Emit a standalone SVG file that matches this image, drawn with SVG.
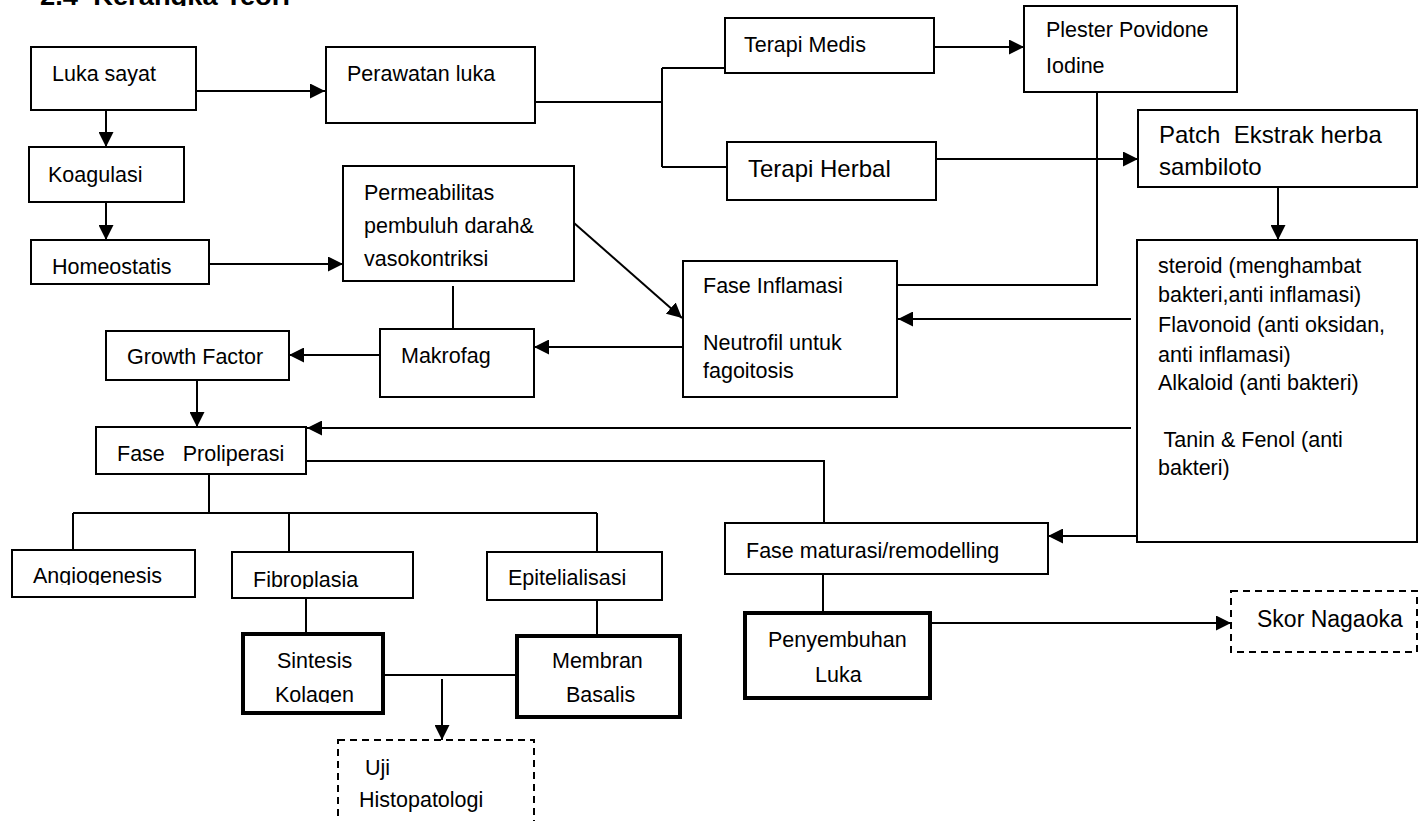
<svg xmlns="http://www.w3.org/2000/svg" width="1419" height="821" viewBox="0 0 1419 821">
<style>
.b{fill:#fff;stroke:#000;stroke-width:2}
.k{fill:#fff;stroke:#000;stroke-width:4}
.d{fill:#fff;stroke:#000;stroke-width:2;stroke-dasharray:7 5}
.t{font-family:"Liberation Sans",Arial,sans-serif;font-size:21.5px;fill:#000}
.a{font-family:"Liberation Sans",Arial,sans-serif;font-size:24px;fill:#000}
.c{stroke:#000;stroke-width:2;fill:none}
.h{font-family:"Liberation Sans",Arial,sans-serif;font-size:26px;font-weight:bold;fill:#000}
</style>
<defs>
<marker id="ar" markerUnits="userSpaceOnUse" markerWidth="15" markerHeight="15" refX="15" refY="7.5" orient="auto">
<path d="M0,0 L15,7.5 L0,15 z" fill="#000"/>
</marker>
<clipPath id="cTitle"><rect x="0" y="0" width="400" height="6"/></clipPath>
<clipPath id="cAng"><rect x="0" y="540" width="300" height="45"/></clipPath>
<clipPath id="cFib"><rect x="200" y="540" width="300" height="49"/></clipPath>
<clipPath id="cKol"><rect x="240" y="640" width="400" height="63"/></clipPath>
</defs>
<rect width="1419" height="821" fill="#fff"/>
<g id="title" clip-path="url(#cTitle)">
<text class="h" x="40" y="5" xml:space="preserve" textLength="250" lengthAdjust="spacingAndGlyphs">2.4  Kerangka Teori</text>
</g>
<g id="connectors">
<path class="c" d="M196,91 H325" marker-end="url(#ar)"/>
<path class="c" d="M106,110 V147" marker-end="url(#ar)"/>
<path class="c" d="M106,202 V240" marker-end="url(#ar)"/>
<path class="c" d="M209,264 H343" marker-end="url(#ar)"/>
<path class="c" d="M535,102 H662 M662,68 V167 M662,68 H725 M662,167 H727"/>
<path class="c" d="M934,47 H1024" marker-end="url(#ar)"/>
<path class="c" d="M936,159 H1138" marker-end="url(#ar)"/>
<path class="c" d="M1097,92 V285 H897"/>
<path class="c" d="M1278,187 V240" marker-end="url(#ar)"/>
<path class="c" d="M1131,319 H898" marker-end="url(#ar)"/>
<path class="c" d="M1131,428 H307" marker-end="url(#ar)"/>
<path class="c" d="M1137,536 H1048" marker-end="url(#ar)"/>
<path class="c" d="M574,223 L682,318" marker-end="url(#ar)"/>
<path class="c" d="M453,286 V329"/>
<path class="c" d="M683,347 H534" marker-end="url(#ar)"/>
<path class="c" d="M380,355 H289" marker-end="url(#ar)"/>
<path class="c" d="M197,380 V427" marker-end="url(#ar)"/>
<path class="c" d="M306,461 H824 V523"/>
<path class="c" d="M209,474 V513 M73,513 H597 M73,513 V550 M289,513 V552 M597,513 V552"/>
<path class="c" d="M306,598 V634"/>
<path class="c" d="M597,600 V636"/>
<path class="c" d="M383,675 H517"/>
<path class="c" d="M442,679 V740" marker-end="url(#ar)"/>
<path class="c" d="M823,574 V613"/>
<path class="c" d="M930,623 H1231" marker-end="url(#ar)"/>
</g>
<g id="luka-sayat"><rect class="b" x="31" y="47" width="165" height="63"/><text class="t" x="52" y="81">Luka sayat</text></g>
<g id="perawatan-luka"><rect class="b" x="326" y="47" width="209" height="76"/><text class="t" x="347" y="81">Perawatan luka</text></g>
<g id="terapi-medis"><rect class="b" x="725" y="18" width="209" height="55"/><text class="t" x="744" y="52">Terapi Medis</text></g>
<g id="plester"><rect class="b" x="1024" y="6" width="213" height="86"/><text class="t" x="1046" y="37">Plester Povidone</text><text class="t" x="1046" y="73">Iodine</text></g>
<g id="terapi-herbal"><rect class="b" x="727" y="142" width="209" height="58"/><text class="a" x="748" y="177">Terapi Herbal</text></g>
<g id="patch"><rect class="b" x="1138" y="110" width="279" height="77"/><text class="a" x="1159" y="143" xml:space="preserve">Patch  Ekstrak herba</text><text class="a" x="1159" y="175">sambiloto</text></g>
<g id="koagulasi"><rect class="b" x="29" y="147" width="155" height="55"/><text class="t" x="48" y="182">Koagulasi</text></g>
<g id="homeostatis"><rect class="b" x="31" y="240" width="178" height="44"/><text class="t" x="52" y="274">Homeostatis</text></g>
<g id="permeabilitas"><rect class="b" x="343" y="166" width="231" height="115"/><text class="t" x="364" y="200">Permeabilitas</text><text class="t" x="364" y="233">pembuluh darah&amp;</text><text class="t" x="364" y="266">vasokontriksi</text></g>
<g id="fase-inflamasi"><rect class="b" x="683" y="261" width="214" height="136"/><text class="t" x="703" y="293">Fase Inflamasi</text><text class="t" x="703" y="350">Neutrofil untuk</text><text class="t" x="703" y="378">fagoitosis</text></g>
<g id="senyawa"><rect class="b" x="1137" y="240" width="280" height="302"/>
<text class="t" x="1158" y="273">steroid (menghambat</text>
<text class="t" x="1158" y="302">bakteri,anti inflamasi)</text>
<text class="t" x="1158" y="332">Flavonoid (anti oksidan,</text>
<text class="t" x="1158" y="362">anti inflamasi)</text>
<text class="t" x="1158" y="390">Alkaloid (anti bakteri)</text>
<text class="t" x="1158" y="447" xml:space="preserve"> Tanin &amp; Fenol (anti</text>
<text class="t" x="1158" y="475">bakteri)</text></g>
<g id="makrofag"><rect class="b" x="380" y="329" width="154" height="68"/><text class="t" x="401" y="363">Makrofag</text></g>
<g id="growth-factor"><rect class="b" x="106" y="331" width="183" height="49"/><text class="t" x="127" y="364">Growth Factor</text></g>
<g id="fase-proliperasi"><rect class="b" x="96" y="427" width="210" height="47"/><text class="t" x="117" y="461" xml:space="preserve">Fase   Proliperasi</text></g>
<g id="angiogenesis"><rect class="b" x="12" y="550" width="183" height="47"/><text class="t" x="33" y="583" clip-path="url(#cAng)">Angiogenesis</text></g>
<g id="fibroplasia"><rect class="b" x="232" y="552" width="181" height="46"/><text class="t" x="253" y="587" clip-path="url(#cFib)">Fibroplasia</text></g>
<g id="epitelialisasi"><rect class="b" x="487" y="552" width="175" height="48"/><text class="t" x="508" y="585">Epitelialisasi</text></g>
<g id="fase-maturasi"><rect class="b" x="725" y="523" width="323" height="51"/><text class="t" x="746" y="558">Fase maturasi/remodelling</text></g>
<g id="sintesis-kolagen"><rect class="k" x="243" y="634" width="140" height="79"/><text class="t" x="277" y="668">Sintesis</text><text class="t" x="275" y="702" clip-path="url(#cKol)">Kolagen</text></g>
<g id="membran-basalis"><rect class="k" x="517" y="636" width="163" height="81"/><text class="t" x="552" y="668">Membran</text><text class="t" x="566" y="702" clip-path="url(#cKol)">Basalis</text></g>
<g id="penyembuhan-luka"><rect class="k" x="745" y="613" width="185" height="85"/><text class="t" x="768" y="647">Penyembuhan</text><text class="t" x="815" y="682">Luka</text></g>
<g id="uji-histopatologi"><rect class="d" x="338" y="740" width="196" height="100"/><text class="t" x="365" y="775">Uji</text><text class="t" x="359" y="807">Histopatologi</text></g>
<g id="skor-nagaoka"><rect class="d" x="1231" y="591" width="186" height="61"/><text class="t" x="1257" y="627" style="font-size:23px">Skor Nagaoka</text></g>
</svg>
